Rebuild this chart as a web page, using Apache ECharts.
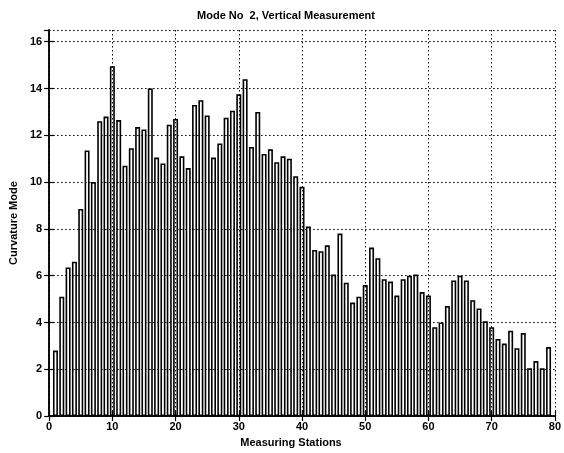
<!DOCTYPE html>
<html>
<head>
<meta charset="utf-8">
<script src="https://cdn.jsdelivr.net/npm/echarts@6/dist/echarts.min.js"></script>
<style>html,body{margin:0;padding:0;background:#fff}#c{width:564px;height:453px}</style>
</head>
<body>
<div id="c"></div>
<script>
const stations = [1,2,3,4,5,6,7,8,9,10,11,12,13,14,15,16,17,18,19,20,21,22,23,24,25,26,27,28,29,30,31,32,33,34,35,36,37,38,39,40,41,42,43,44,45,46,47,48,49,50,51,52,53,54,55,56,57,58,59,60,61,62,63,64,65,66,67,68,69,70,71,72,73,74,75,76,77,78,79];
const values = [2.8,5.1,6.35,6.6,8.85,11.35,10.0,12.6,12.8,14.95,12.65,10.7,11.45,12.35,12.25,14.0,11.05,10.8,12.45,12.7,11.1,10.6,13.3,13.5,12.85,11.05,11.65,12.75,13.05,13.75,14.4,11.5,13.0,11.2,11.4,10.85,11.1,11.0,10.25,9.8,8.1,7.1,7.05,7.3,6.05,7.8,5.7,4.85,5.1,5.6,7.2,6.75,5.85,5.75,5.15,5.85,6.0,6.05,5.3,5.15,3.8,4.0,4.7,5.8,6.0,5.8,4.95,4.6,4.05,3.8,3.3,3.1,3.65,2.9,3.55,2.05,2.35,2.05,2.95];
const titleText = 'Mode No  2, Vertical Measurement';
const xName = 'Measuring Stations';
const yName = 'Curvature Mode';

const font = 'Liberation Sans, Arial, sans-serif';
const chart = echarts.init(document.getElementById('c'), null, {renderer: 'canvas'});
const dotted = {color: '#000', width: 1, type: [1.5, 2.5]};
chart.setOption({
  animation: false,
  backgroundColor: '#fff',
  title: {text: titleText, left: 281, top: 5, textAlign: 'center',
    textStyle: {fontFamily: font, fontSize: 11, fontWeight: 'bold', color: '#000'}},
  grid: {left: 48, right: 8, top: 30, bottom: 36, show: false},
  xAxis: [{
    type: 'value', min: 0, max: 80, interval: 10, position: 'bottom',
    name: xName, nameLocation: 'middle', nameGap: 11,
    nameTextStyle: {fontFamily: font, fontSize: 11, fontWeight: 'bold', color: '#000', padding: [0, 22, 0, 0]},
    axisLine: {show: true, lineStyle: {color: '#000', width: 1.5}},
    axisTick: {show: true, inside: true, length: 5, lineStyle: {color: '#000', width: 1.2}},
    axisLabel: {fontFamily: font, fontSize: 11, fontWeight: 'bold', color: '#000', margin: 5},
    splitLine: {show: true, lineStyle: dotted}
  }, {
    type: 'value', min: 0, max: 80, interval: 10, position: 'top',
    axisLine: {show: true, lineStyle: {color: '#000', width: 1.5}},
    axisTick: {show: true, inside: true, length: 5, lineStyle: {color: '#000', width: 1.2}},
    axisLabel: {show: false}, splitLine: {show: false}
  }],
  yAxis: [{
    type: 'value', min: 0, max: 16.5, interval: 2, position: 'left',
    name: yName, nameLocation: 'middle', nameGap: 28, nameRotate: 90,
    nameTextStyle: {fontFamily: font, fontSize: 11, fontWeight: 'bold', color: '#000'},
    axisLine: {show: true, lineStyle: {color: '#000', width: 1.5}},
    axisTick: {show: true, inside: true, length: 5, lineStyle: {color: '#000', width: 1.2}},
    axisLabel: {fontFamily: font, fontSize: 11, fontWeight: 'bold', color: '#000', margin: 7, showMaxLabel: false,
      formatter: v => (v % 2 === 0 ? String(v) : '')},
    splitLine: {show: true, lineStyle: dotted}
  }, {
    type: 'value', min: 0, max: 16.5, interval: 2, position: 'right',
    axisLine: {show: true, lineStyle: {color: '#000', width: 1.5}},
    axisTick: {show: true, inside: true, length: 5, lineStyle: {color: '#000', width: 1.2}},
    axisLabel: {show: false}, splitLine: {show: false}
  }],
  series: [{
    type: 'bar', xAxisIndex: 0, yAxisIndex: 0,
    data: stations.map((s, i) => [s, values[i]]),
    barWidth: 5,
    itemStyle: {color: 'rgba(255,255,255,0)', borderColor: '#000', borderWidth: 1.6}
  }]
});
</script>
</body>
</html>
